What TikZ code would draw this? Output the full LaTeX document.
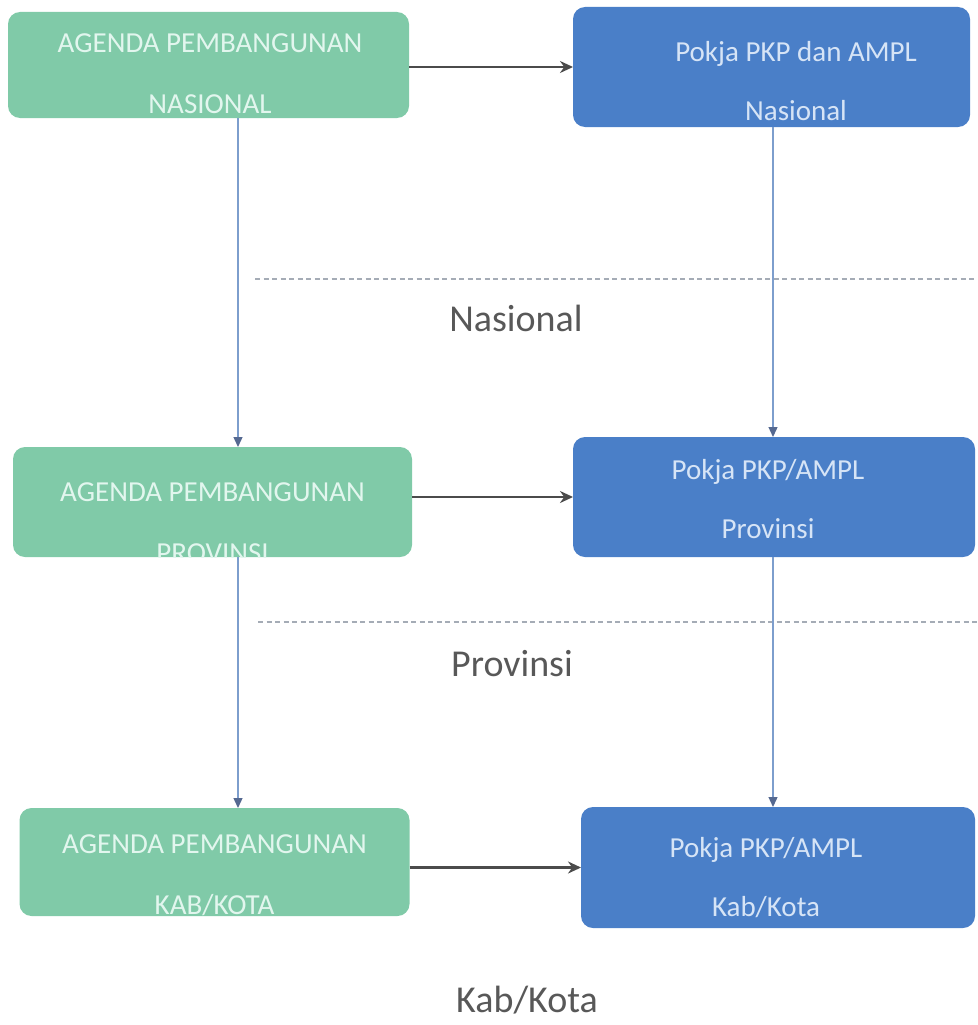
\documentclass[tikz,border=0pt]{standalone}
\usepackage{fontspec}
\setmainfont{Carlito}
\usetikzlibrary{arrows.meta}
\definecolor{agreen}{RGB}{128,202,168}
\definecolor{agtext}{RGB}{226,246,238}
\definecolor{pkblue}{RGB}{74,127,200}
\definecolor{pktext}{RGB}{214,228,246}
\definecolor{lvlgray}{RGB}{88,88,88}
\definecolor{vlinkblue}{RGB}{125,158,205}
\definecolor{vtipblue}{RGB}{85,105,145}
\definecolor{arrowgray}{RGB}{75,75,75}
\definecolor{dashgray}{RGB}{165,172,182}

\begin{document}
\begin{tikzpicture}[x=1pt,y=-1pt,
  agbox/.style={fill=agreen,rounded corners=12pt,outer sep=0pt,inner sep=0pt},
  pkbox/.style={fill=pkblue,rounded corners=12pt,outer sep=0pt,inner sep=0pt},
  agtxt/.style={text=agtext,align=center,inner sep=0pt,font=\fontsize{29}{61}\selectfont},
  pktxt/.style={text=pktext,align=center,inner sep=0pt,font=\fontsize{29}{59}\selectfont},
  lvl/.style={text=lvlgray,inner sep=0pt,font=\fontsize{38}{40}\selectfont},
  hlink/.style={draw=arrowgray,line width=2.4pt,-{Stealth[length=13pt,width=12pt]}},
  vlink/.style={draw=vlinkblue,line width=1.3pt,-{Triangle[length=10pt,width=9pt,color=vtipblue]}},
  levelline/.style={draw=dashgray,line width=1.2pt,dash pattern=on 5pt off 3.5pt}]
  \useasboundingbox (0,0) rectangle (977,1025);
  % Agenda column
  \node[agbox,minimum width=401pt,minimum height=106pt,
    path picture={\node[agtxt,xshift=1.5pt,yshift=-8.5pt] (ag1t) at (path picture bounding box.center) {AGENDA PEMBANGUNAN\\NASIONAL};}] (ag1) at (208.5,65) {};
  \node[agbox,minimum width=399pt,minimum height=110pt,
    path picture={\node[agtxt,yshift=-21pt] (ag2t) at (path picture bounding box.center) {AGENDA PEMBANGUNAN\\PROVINSI};}] (ag2) at (212.5,502) {};
  \node[agbox,minimum width=390pt,minimum height=108pt,
    path picture={\node[agtxt,yshift=-13.5pt] (ag3t) at (path picture bounding box.center) {AGENDA PEMBANGUNAN\\KAB/KOTA};}] (ag3) at (214.5,862) {};
  % Pokja column
  \node[pkbox,minimum width=397pt,minimum height=120pt,
    path picture={\node[pktxt,xshift=24.5pt,yshift=-14.5pt] (pk1t) at (path picture bounding box.center) {Pokja PKP dan AMPL\\Nasional};}] (pk1) at (771.5,67) {};
  \node[pkbox,minimum width=402pt,minimum height=120pt,
    path picture={\node[pktxt,xshift=-6pt,yshift=-2pt] (pk2t) at (path picture bounding box.center) {Pokja PKP/AMPL\\Provinsi};}] (pk2) at (774,497) {};
  \node[pkbox,minimum width=394pt,minimum height=121pt,
    path picture={\node[pktxt,xshift=-12pt,yshift=-10.5pt] (pk3t) at (path picture bounding box.center) {Pokja PKP/AMPL\\Kab/Kota};}] (pk3) at (778,867.5) {};
  % level separators
  \draw[levelline] (255,279) -- (977,279);
  \draw[levelline] (258,622) -- (977,622);
  \node[lvl] (lvnas) at (516,318) {Nasional};
  \node[lvl] (lvprov) at (512,664) {Provinsi};
  \node[lvl] (lvkab) at (527,1000) {Kab/Kota};
  % links
  \coordinate (lx) at (238,0);
  \coordinate (rx) at (773,0);
  \draw[vlink] (ag1.south -| lx) -- (ag2.north -| lx);
  \draw[vlink] (ag2.south -| lx) -- (ag3.north -| lx);
  \draw[vlink] (pk1.south -| rx) -- (pk2.north -| rx);
  \draw[vlink] (pk2.south -| rx) -- (pk3.north -| rx);
  \draw[hlink] (ag1.east |- pk1.west) -- (pk1.west);
  \draw[hlink] (ag2.east |- pk2.west) -- (pk2.west);
  \draw[hlink] (ag3.east |- pk3.west) -- (pk3.west);
\end{tikzpicture}
\end{document}
